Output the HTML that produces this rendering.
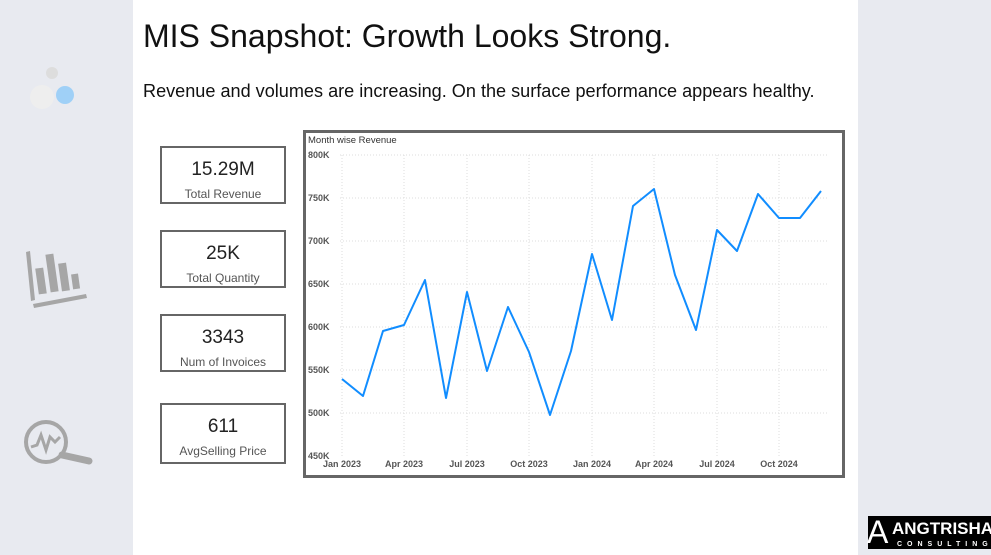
<!DOCTYPE html>
<html><head><style>
body{margin:0;width:991px;height:555px;background:#e8eaf0;position:relative;overflow:hidden;font-family:"Liberation Sans",sans-serif}
.main{position:absolute;left:133px;top:0;width:725px;height:555px;background:#fff}
.t{position:absolute;left:143px;top:18px;font-size:32px;color:#111}
.s{position:absolute;left:143px;top:81px;font-size:18.1px;color:#111}
.k{position:absolute;left:160px;width:122px;border:2px solid #666;text-align:center;background:#fff}
.k b{display:block;font-weight:normal;font-size:19px;color:#222;margin-top:11px}
.k span{display:block;font-size:12px;color:#555;margin-top:6px}
</style></head><body>
<div class="main"></div>
<div class="t">MIS Snapshot: Growth Looks Strong.</div>
<div class="s">Revenue and volumes are increasing. On the surface performance appears healthy.</div>
<div class="k" style="top:146px;height:54px"><b>15.29M</b><span>Total Revenue</span></div>
<div class="k" style="top:230px;height:54px"><b>25K</b><span>Total Quantity</span></div>
<div class="k" style="top:314px;height:54px"><b>3343</b><span>Num of Invoices</span></div>
<div class="k" style="top:403px;height:57px"><b>611</b><span>AvgSelling Price</span></div>
<svg width="991" height="555" style="position:absolute;left:0;top:0" font-family="Liberation Sans, sans-serif">
<circle cx="52" cy="73" r="6" fill="#ddd"/><circle cx="42" cy="97" r="12" fill="#eee"/><circle cx="65" cy="95" r="9" fill="#9fd0f7"/>
<g fill="#a6a6a6"><polygon points="26,252 30,251 35,300 31,301"/><polygon points="33,304 86,294 87,298 34,308"/><rect x="37" y="268" width="8" height="26" transform="rotate(-8 41 281)"/><rect x="48" y="254" width="8" height="38" transform="rotate(-8 52 273)"/><rect x="60" y="263" width="8" height="28" transform="rotate(-8 64 277)"/><rect x="72" y="274" width="7" height="15" transform="rotate(-8 75 281)"/></g>
<circle cx="46" cy="442" r="20" fill="none" stroke="#a6a6a6" stroke-width="4"/><line x1="62" y1="455" x2="89" y2="461" stroke="#a6a6a6" stroke-width="7" stroke-linecap="round"/><polyline points="31,447 37,445 41,435 46,450 50,437 55,442 60,437" fill="none" stroke="#a6a6a6" stroke-width="3"/>
<rect x="304.5" y="131.5" width="539" height="345" fill="#fff" stroke="#666" stroke-width="3"/>
<text x="308" y="143" font-size="9.5" fill="#333">Month wise Revenue</text>
<g stroke="#ddd" stroke-dasharray="1,2">
<line x1="340" y1="155" x2="828" y2="155"/><line x1="340" y1="198" x2="828" y2="198"/><line x1="340" y1="241" x2="828" y2="241"/><line x1="340" y1="284" x2="828" y2="284"/><line x1="340" y1="327" x2="828" y2="327"/><line x1="340" y1="370" x2="828" y2="370"/><line x1="340" y1="413" x2="828" y2="413"/>
<line x1="342" y1="155" x2="342" y2="456"/><line x1="404" y1="155" x2="404" y2="456"/><line x1="467" y1="155" x2="467" y2="456"/><line x1="529" y1="155" x2="529" y2="456"/><line x1="592" y1="155" x2="592" y2="456"/><line x1="654" y1="155" x2="654" y2="456"/><line x1="717" y1="155" x2="717" y2="456"/><line x1="779" y1="155" x2="779" y2="456"/>
</g>
<g font-size="9" font-weight="bold" fill="#555">
<text x="308" y="158">800K</text><text x="308" y="201">750K</text><text x="308" y="244">700K</text><text x="308" y="287">650K</text><text x="308" y="330">600K</text><text x="308" y="373">550K</text><text x="308" y="416">500K</text><text x="308" y="459">450K</text>
</g>
<g font-size="9" font-weight="bold" fill="#555" text-anchor="middle">
<text x="342" y="467">Jan 2023</text><text x="404" y="467">Apr 2023</text><text x="467" y="467">Jul 2023</text><text x="529" y="467">Oct 2023</text><text x="592" y="467">Jan 2024</text><text x="654" y="467">Apr 2024</text><text x="717" y="467">Jul 2024</text><text x="779" y="467">Oct 2024</text>
</g>
<polyline fill="none" stroke="#118dff" stroke-width="2" stroke-linejoin="round" points="342,379 363,396 383,331 404,325 425,280 446,398 467,292 487,371 508,307 529,352 550,415 571,351 592,254 612,320 633,206 654,189 675,275 696,330 717,230 737,251 758,194 779,218 800,218 821,191"/>
<rect x="868" y="516" width="123" height="33" fill="#000"/>
<text x="867" y="543" font-size="32" fill="#fff">A</text>
<text x="892" y="534" font-size="17" font-weight="bold" fill="#fff">ANGTRISHA</text>
<text x="897" y="546" font-size="7" font-weight="bold" fill="#fff" letter-spacing="5">CONSULTING</text>
</svg>
</body></html>
